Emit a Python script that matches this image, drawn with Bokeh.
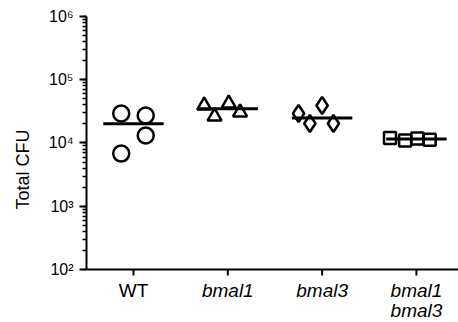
import numpy as np
from bokeh.plotting import figure
from bokeh.core.properties import value
from bokeh.embed import file_html
from bokeh.resources import INLINE

# ---- data ----
categories = ["WT", "bmal1", "bmal3", "bmal1\nbmal3"]
wt_cfu = [29300, 27200, 13100, 6800]
bmal1_cfu = [39200, 26200, 42100, 30400]
bmal3_cfu = [29300, 39200, 20300, 20300]
bmal1_bmal3_cfu = [12000, 11000, 11800, 11300]
# horizontal scatter (jitter) of the points within each column, in category units
wt_jitter = [-0.13, 0.13, 0.13, -0.13]
bmal1_jitter = [-0.25, -0.14, 0.01, 0.13]
bmal3_jitter = [-0.25, 0.0, -0.13, 0.12]
bmal1_bmal3_jitter = [-0.28, -0.12, 0.01, 0.14]
y_ticks = [1e2, 1e3, 1e4, 1e5, 1e6]
y_tick_labels = ["10²", "10³", "10⁴", "10⁵", "10⁶"]
y_label = "Total CFU"

groups = [wt_cfu, bmal1_cfu, bmal3_cfu, bmal1_bmal3_cfu]
jitters = [wt_jitter, bmal1_jitter, bmal3_jitter, bmal1_bmal3_jitter]
markers = ["circle", "triangle", "diamond", "square"]
sizes = [16, 14, 17, 12]

FONT = "Liberation Sans"
y_lo, y_hi = y_ticks[0], y_ticks[-1]

p = figure(width=458, height=322, output_backend="svg", toolbar_location=None,
           y_axis_type="log", y_range=(10 ** 1.162, y_hi), x_range=(-0.498, 3.446),
           min_border_left=86, min_border_top=16, min_border_right=0,
           min_border_bottom=0)
p.grid.visible = False
p.outline_line_color = None
p.xaxis.visible = False

for i, (vals, jit, mk, sz) in enumerate(zip(groups, jitters, markers, sizes)):
    xs = [i + j for j in jit]
    p.scatter(xs, vals, marker=mk, size=sz, fill_color=None,
              line_color="black", line_width=2.5)
    med = float(np.median(vals))
    p.segment(x0=[i - 0.32], x1=[i + 0.32], y0=[med], y1=[med],
              line_color="black", line_width=3)

# y axis
ya = p.yaxis[0]
ya.bounds = (y_lo, y_hi)
ya.major_label_overrides = {int(t): l for t, l in zip(y_ticks, y_tick_labels)}
ya.axis_line_width = 2
ya.major_tick_line_width = 2
ya.minor_tick_line_width = 1.5
ya.major_tick_out = 7
ya.major_tick_in = 0
ya.minor_tick_out = 4
ya.minor_tick_in = 0
ya.major_label_text_font = FONT
ya.major_label_text_font_size = "16px"
ya.major_label_text_color = "black"
ya.major_label_standoff = 6
ya.axis_label = y_label
ya.axis_label_text_font = FONT
ya.axis_label_text_font_size = "18px"
ya.axis_label_text_font_style = "normal"
ya.axis_label_text_color = "black"
ya.axis_label_standoff = 13

# x axis (line at the bottom of the value range, ticks at the categories)
cat_x = list(range(len(categories)))
p.hspan(y=[y_lo], line_color="black", line_width=2)
p.ray(x=cat_x, y=[y_lo] * len(cat_x), length=6, length_units="screen",
      angle=-np.pi / 2, line_color="black", line_width=2)

for i, cat in enumerate(categories):
    for j, line in enumerate(cat.split("\n")):
        p.text(x=[i], y=[y_lo], text=[line], text_align="center",
               text_baseline="top", y_offset=11 + 20 * j,
               text_font=value(FONT), text_font_size="19px",
               text_font_style="normal" if i == 0 else "italic",
               text_color="black")

open("out.html", "w").write(file_html(p, INLINE))
